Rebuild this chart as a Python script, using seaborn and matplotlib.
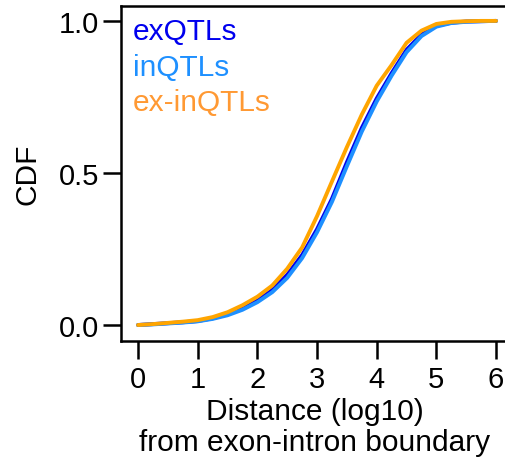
import numpy as np
import pandas as pd
import matplotlib
matplotlib.use("Agg")
import matplotlib.pyplot as plt
import seaborn as sns

# ---- data ----
distance = [0.0, 0.25, 0.5, 0.75, 1.0, 1.25, 1.5, 1.75, 2.0, 2.25, 2.5, 2.75,
            3.0, 3.25, 3.5, 3.75, 4.0, 4.25, 4.5, 4.75, 5.0, 5.25, 5.5, 5.75, 6.0]
cdf_exQTLs = [0.0, 0.003, 0.006, 0.009, 0.013, 0.022, 0.035, 0.055, 0.080, 0.115,
              0.165, 0.230, 0.315, 0.415, 0.535, 0.648, 0.745, 0.828, 0.905, 0.955,
              0.984, 0.994, 0.998, 0.999, 1.0]
cdf_inQTLs = [0.0, 0.002, 0.005, 0.008, 0.012, 0.020, 0.032, 0.050, 0.075, 0.108,
              0.155, 0.220, 0.305, 0.405, 0.522, 0.636, 0.735, 0.820, 0.897, 0.950,
              0.981, 0.993, 0.997, 0.999, 1.0]
cdf_exinQTLs = [0.0, 0.003, 0.007, 0.011, 0.016, 0.026, 0.042, 0.065, 0.093, 0.130,
                0.185, 0.255, 0.358, 0.472, 0.585, 0.692, 0.787, 0.855, 0.928, 0.968,
                0.990, 0.997, 0.999, 1.0, 1.0]
groups = ["exQTLs", "inQTLs", "ex-inQTLs"]
line_colors = {"exQTLs": "#0000EE", "inQTLs": "#1E90FF", "ex-inQTLs": "#FFA500"}
text_colors = {"exQTLs": "#0000EE", "inQTLs": "#1E90FF", "ex-inQTLs": "#FF9933"}
x_ticks = [0, 1, 2, 3, 4, 5, 6]
y_ticks = [0.0, 0.5, 1.0]
y_ticklabels = ["0.0", "0.5", "1.0"]

df = pd.concat([
    pd.DataFrame({"x": distance, "cdf": cdf_exQTLs, "group": "exQTLs"}),
    pd.DataFrame({"x": distance, "cdf": cdf_inQTLs, "group": "inQTLs"}),
    pd.DataFrame({"x": distance, "cdf": cdf_exinQTLs, "group": "ex-inQTLs"}),
])

sns.set_style("ticks")
plt.rcParams["font.family"] = ["Liberation Sans", "DejaVu Sans"]
plt.rcParams["text.color"] = "black"
plt.rcParams["axes.labelcolor"] = "black"
plt.rcParams["xtick.color"] = "black"
plt.rcParams["ytick.color"] = "black"

fig = plt.figure(figsize=(5.06, 4.60), dpi=100)
ax = fig.add_axes([121 / 506, (460 - 342) / 460, (508 - 121) / 506, (342 - 7) / 460])

sns.lineplot(data=df, x="x", y="cdf", hue="group", hue_order=groups,
             palette=line_colors, linewidth=2.8, legend=False, ax=ax)

ax.set_xlim(-0.285, 6.2)
ax.set_ylim(-0.0526, 1.049)
ax.set_xticks(x_ticks)
ax.set_xticklabels([str(t) for t in x_ticks])
ax.set_yticks(y_ticks)
ax.set_yticklabels(y_ticklabels)

for s in ax.spines.values():
    s.set_linewidth(1.8)
    s.set_color("black")
ax.tick_params(axis="both", length=13, width=1.8, labelsize=21, color="black",
               labelcolor="black")
ax.tick_params(axis="x", pad=4)
ax.tick_params(axis="y", pad=3)

ax.set_xlabel("Distance (log10)\nfrom exon-intron boundary", fontsize=21.5,
              linespacing=1.15, labelpad=3, color="black")
ax.set_ylabel("CDF", fontsize=21.5, labelpad=12, color="black")

for i, g in enumerate(groups):
    ax.text(0.031, 0.925 - i * 0.106, g, color=text_colors[g], fontsize=21.5,
            transform=ax.transAxes, ha="left", va="center")

fig.savefig("out.png", dpi=100)
